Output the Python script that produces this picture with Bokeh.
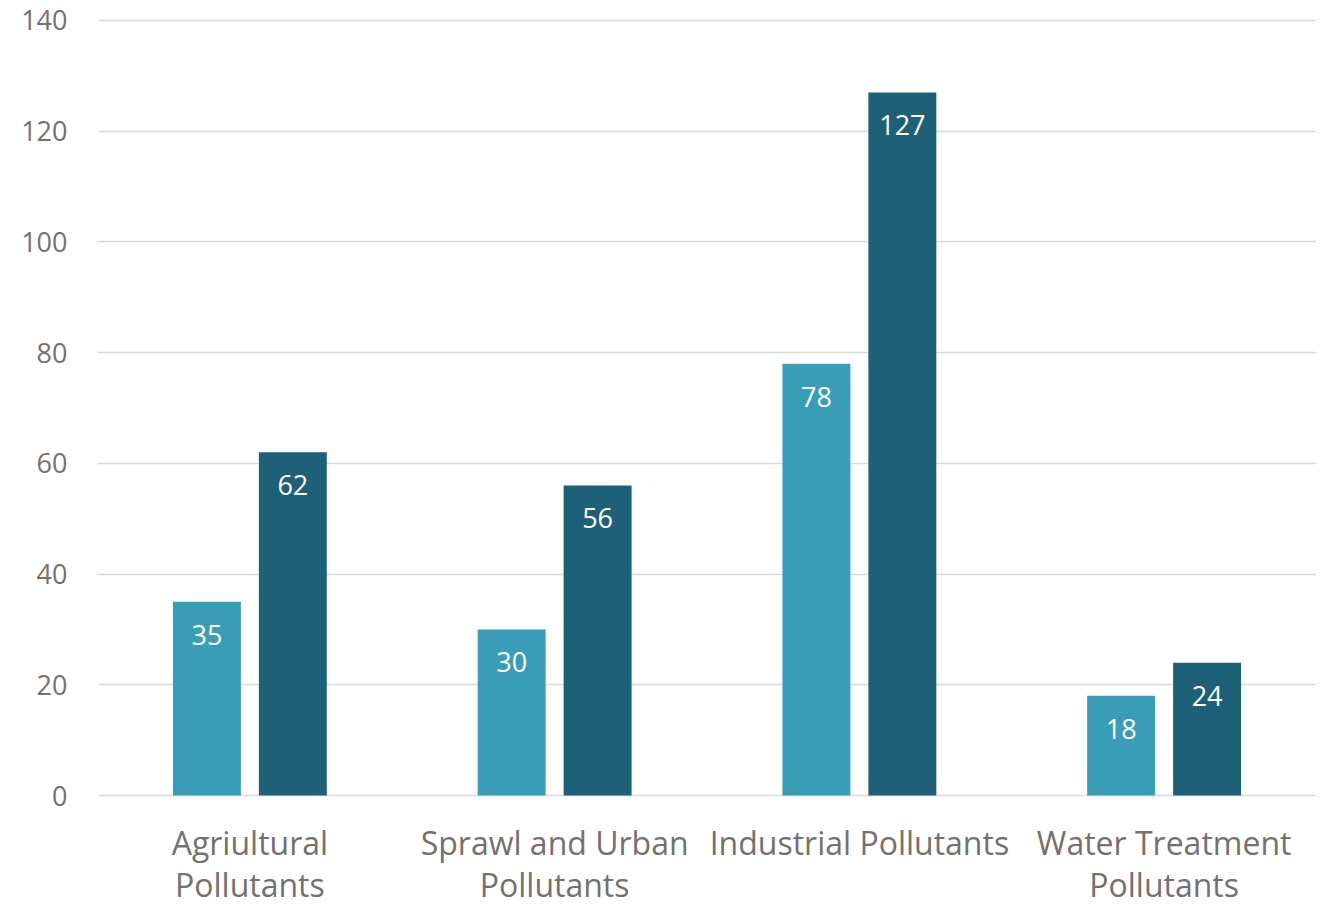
from bokeh.plotting import figure
from bokeh.models import ColumnDataSource, FactorRange, Range1d, FixedTicker
from bokeh.transform import dodge
from bokeh.core.properties import value
from bokeh.embed import file_html
from bokeh.resources import INLINE

categories = ["Agriultural Pollutants", "Sprawl and Urban Pollutants",
              "Industrial Pollutants", "Water Treatment Pollutants"]
label_line1 = ["Agriultural", "Sprawl and Urban", "Industrial Pollutants", "Water Treatment"]
label_line2 = ["Pollutants", "Pollutants", "", "Pollutants"]
series_a = [35, 30, 78, 18]
series_b = [62, 56, 127, 24]
y_ticks = [0, 20, 40, 60, 80, 100, 120, 140]

LIGHT = "#3A9DB8"
DARK = "#1D6078"
TEXT = "#747070"
GRID = "#D9D9D9"
FONT = "Open Sans"

src = ColumnDataSource(dict(cat=categories, a=series_a, b=series_b,
                            la=[str(v) for v in series_a],
                            lb=[str(v) for v in series_b],
                            line1=label_line1, line2=label_line2,
                            base=[0] * len(categories)))

# frame spans down to the window bottom so the two-line category labels can be drawn inside it
p = figure(width=1322, height=905, output_backend="svg", toolbar_location=None,
           x_range=FactorRange(factors=categories, range_padding=0),
           y_range=Range1d(-19.87, 140.36),
           min_border_left=97, min_border_right=6, min_border_top=18,
           min_border_bottom=0)
p.outline_line_color = None
p.background_fill_color = "white"
p.border_fill_color = "white"
p.xaxis.visible = False

p.vbar(x=dodge("cat", -0.141, range=p.x_range), top="a", width=0.223,
       source=src, fill_color=LIGHT, line_color=None)
p.vbar(x=dodge("cat", 0.141, range=p.x_range), top="b", width=0.223,
       source=src, fill_color=DARK, line_color=None)

p.text(x=dodge("cat", -0.141, range=p.x_range), y="a", text="la", source=src,
       y_offset=33, text_align="center", text_baseline="middle",
       text_color="white", text_font=value(FONT), text_font_size="27px")
p.text(x=dodge("cat", 0.141, range=p.x_range), y="b", text="lb", source=src,
       y_offset=33, text_align="center", text_baseline="middle",
       text_color="white", text_font=value(FONT), text_font_size="27px")

# category labels (two lines)
p.text(x="cat", y="base", text="line1", source=src, y_offset=47,
       text_align="center", text_baseline="alphabetic",
       text_color=TEXT, text_font=value(FONT), text_font_size="32px")
p.text(x="cat", y="base", text="line2", source=src, y_offset=89,
       text_align="center", text_baseline="alphabetic",
       text_color=TEXT, text_font=value(FONT), text_font_size="32px")

p.xgrid.grid_line_color = None
p.ygrid.grid_line_color = GRID
p.ygrid.grid_line_width = 1.5
p.yaxis.ticker = FixedTicker(ticks=y_ticks)
p.ygrid.ticker = FixedTicker(ticks=y_ticks)

p.yaxis.axis_line_color = None
p.yaxis.major_tick_line_color = None
p.yaxis.minor_tick_line_color = None
p.yaxis.major_label_standoff = 24
p.yaxis.major_label_text_font = FONT
p.yaxis.major_label_text_font_size = "27px"
p.yaxis.major_label_text_color = TEXT

open("out.html", "w").write(file_html(p, INLINE))
